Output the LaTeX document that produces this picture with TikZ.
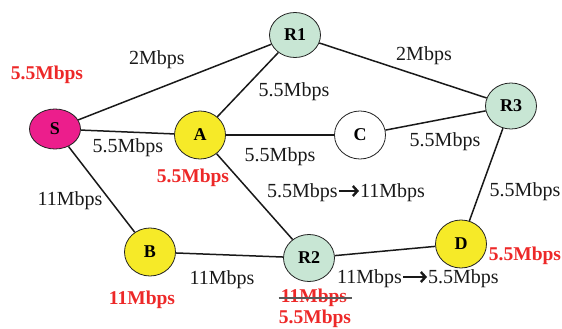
\documentclass[tikz,border=0pt]{standalone}
\usepackage{fontspec}
\setmainfont{Liberation Serif}
\usetikzlibrary{arrows.meta,shapes.geometric}

\definecolor{srcpink}{RGB}{236,30,140}
\definecolor{hostyellow}{RGB}{246,234,40}
\definecolor{routergreen}{RGB}{200,230,212}
\definecolor{ratered}{RGB}{237,40,40}
\definecolor{outline}{RGB}{35,35,35}
\definecolor{linkblack}{RGB}{25,25,25}

\tikzset{
  station/.style={ellipse, draw=outline, line width=0.8pt, minimum width=51pt,
    minimum height=48pt, inner sep=0pt, font=\fontsize{18}{18}\selectfont\bfseries},
  link/.style={draw=linkblack, line width=1.5pt},
  rate/.style={anchor=base, inner sep=0pt, text=linkblack, font=\fontsize{20}{20}\selectfont},
  ratel/.style={rate, anchor=base west},
  newrate/.style={anchor=base, inner sep=0pt, text=ratered, font=\fontsize{19.5}{19.5}\selectfont\bfseries},
  changearrow/.style={draw=linkblack, line width=2.4pt, -{Straight Barb[length=4.5pt,width=10pt]}},
  strike/.style={draw=black!65, line width=1.3pt}
}

\begin{document}
\begin{tikzpicture}[x=1pt, y=-1pt]
  \useasboundingbox (0,0) rectangle (562,329);

  % stations and routers
  \node[station, fill=srcpink, minimum height=40pt] (S)  at (55,129) {S};
  \node[station, fill=hostyellow]  (A)  at (200,135) {A};
  \node[station, fill=white]       (C)  at (360,135) {C};
  \node[station, fill=routergreen, minimum height=45pt] (R1) at (295,35) {R1};
  \node[station, fill=routergreen, minimum height=46pt] (R3) at (511,106) {R3};
  \node[station, fill=hostyellow]  (B)  at (150,252) {B};
  \node[station, fill=routergreen, minimum height=47pt] (R2) at (309,258) {R2};
  \node[station, fill=hostyellow]  (D)  at (461,244) {D};

  % links
  \draw[link] (S) -- (R1);
  \draw[link] (S) -- (A);
  \draw[link] (S) -- (B);
  \draw[link] (A) -- (R1);
  \draw[link] (A) -- (C);
  \draw[link] (A) -- (R2);
  \draw[link] (C) -- (R3);
  \draw[link] (R1) -- (R3);
  \draw[link] (R3) -- (D);
  \draw[link] (B) -- (R2);
  \draw[link] (R2) -- (D);

  % link capacities
  \node[rate] (lSR1)  at (157,65)  {2Mbps};
  \node[rate] (lAR1)  at (294,96)  {5.5Mbps};
  \node[rate] (lR1R3) at (424,60)  {2Mbps};
  \node[rate] (lSA)   at (128,152) {5.5Mbps};
  \node[rate] (lAC)   at (280,161) {5.5Mbps};
  \node[rate] (lCR3)  at (445,146) {5.5Mbps};
  \node[rate] (lSB)   at (70,205)  {11Mbps};
  \node[rate] (lR3D)  at (525,196) {5.5Mbps};
  \node[rate] (lBR2)  at (222,284) {11Mbps};

  % capacity changes
  \node[ratel] (lAR2a) at (267,197) {5.5Mbps};
  \node[ratel] (lAR2b) at (360,197) {11Mbps};
  \draw[changearrow] ([xshift=1pt,yshift=6pt]lAR2a.base east) -- ([xshift=-1pt,yshift=6pt]lAR2b.base west);

  \node[ratel] (lR2Da) at (337,283) {11Mbps};
  \node[ratel] (lR2Db) at (428,283) {5.5Mbps};
  \draw[changearrow] ([xshift=1pt,yshift=6pt]lR2Da.base east) -- ([xshift=-1pt,yshift=6pt]lR2Db.base west);

  % per-station rates
  \node[newrate] (rS)  at (47,79)   {5.5Mbps};
  \node[newrate] (rA)  at (193,182) {5.5Mbps};
  \node[newrate] (rB)  at (142,304) {11Mbps};
  \node[newrate] (rR2old) at (314,302) {11Mbps};
  \draw[strike] ([xshift=-2pt,yshift=4pt]rR2old.base west) -- ([xshift=5pt,yshift=4pt]rR2old.base east);
  \node[newrate] (rR2) at (315,323) {5.5Mbps};
  \node[newrate] (rD)  at (525,260) {5.5Mbps};
\end{tikzpicture}
\end{document}
